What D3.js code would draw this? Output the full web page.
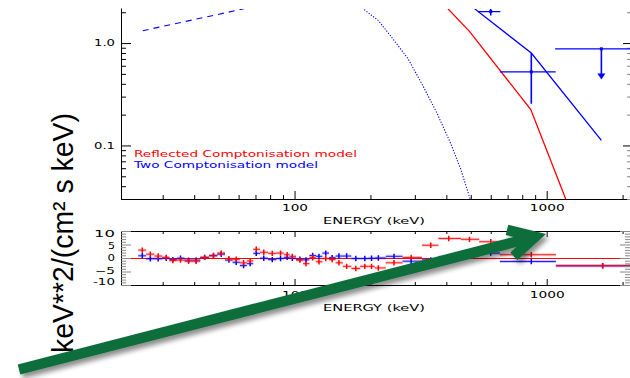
<!DOCTYPE html>
<html><head><meta charset="utf-8">
<script src="https://cdn.jsdelivr.net/npm/d3@7"></script>
<style>
html,body{margin:0;padding:0;background:#fff;overflow:hidden}
svg{display:block}
</style></head><body>
<svg id="chart" width="630" height="378"></svg>
<script>
// ---------------- data ----------------
const xTickMajor = [100, 1000];
const xTickLabels = ["100", "1000"];
const yTickMajor = [0.1, 1.0];
const yTickLabels = ["0.1", "1.0"];
const resTickValues = [10, 5, 0, -5, -10];
const resTickLabels = ["10", "5", "0", "\u22125", "-10"];
const xTitle = "ENERGY (keV)";
const yTitle = "keV**2/(cm\u00B2 s keV)";
const legendLabels = ["Reflected Comptonisation model", "Two Comptonisation model"];

// model curves: energy (keV) and flux
const reflModelE = [406, 494, 865, 1190];
const reflModelF = [2.16, 1.30, 0.224, 0.030];
const twoModelE = [518, 869, 1648];
const twoModelF = [2.16, 0.80, 0.112];
const compDashE = [25, 63];
const compDashF = [1.32, 2.16];
const compDotE = [189, 215, 244, 281, 324, 367, 416, 457, 497];
const compDotF = [2.12, 1.66, 1.12, 0.713, 0.377, 0.207, 0.105, 0.058, 0.030];

// blue spectral points in the upper panel
const specE   = [600, 869, 1648];
const specELo = [535, 652, 1080];
const specEHi = [655, 1086, 2547];
const specF   = [2.03, 0.523, 0.878];
const specFLo = [1.86, 0.255, 0.45];
const specFHi = [2.22, 0.80, 0.878];
const specUpperLimit = [false, false, true];

// residuals (sigma)
const resE = [24.9, 26.8, 28.8, 31.0, 32.9, 35.3, 38.0, 40.7, 44.0, 47.7, 51.2, 54.9, 58.7, 62.8, 66.7, 70.5, 75.5, 81.6, 88.0, 93.5, 98.0,
              105, 111, 118, 125, 133, 141, 150, 161, 175, 190, 202, 215, 248, 290,
              347, 409, 494, 600, 869, 1667];
const resEdges = [24.0, 25.8, 27.8, 29.9, 31.9, 34.1, 36.6, 39.3, 42.3, 45.8, 49.4, 53.0, 56.8, 60.7, 64.7, 68.6, 73.0, 78.5, 84.7, 90.7, 95.7,
                  101.4, 108, 114.5, 121.5, 129, 137, 145.5, 155.4, 168, 182, 196, 208, 230, 268,
                  320, 372, 457, 540, 652, 1088, 2547];
const resRed = [3.1, 1.6, 0.9, 0.4, -0.75, -0.6, -1.0, -1.0, 0.4, 1.0, 2.0, -0.1, -0.3, -1.6, -0.9, 3.4, 2.3, 1.9, 2.0, 1.4, 0.8,
                -0.6, -1.9, 0.3, -1.2, 0.0, -0.4, -1.6, -2.9, -3.7, -2.9, -2.9, -3.5, -1.6, 0.4,
                4.9, 7.4, 7.1, 6.2, 1.4, -2.7];
const resBlue = [1.0, -0.1, -0.1, 0.1, -0.4, 0.1, -0.6, -0.6, 0.4, 1.1, 1.6, -0.6, -1.4, -2.6, -1.9, 1.9, 0.1, -0.4, 0.0, 0.4, 0.1,
                 -0.3, -0.5, 1.1, 0.8, 2.0, 0.3, 0.9, 0.9, 0.0, 0.0, 0.1, 0.2, 0.8, -1.0,
                 -0.5, 0.6, 1.0, 2.0, -1.1, -2.7];

// ---------------- drawing ----------------
const RED = "#ff0000", BLUE = "#0000ff", GREEN = "#0f6d3a";
const FONT = "'DejaVu Sans', sans-serif";
const svg = d3.select("#chart");

const x = d3.scaleLog().domain([20.5, 2150]).range([121, 630.5]);
const yTop = d3.scaleLog().domain([0.03, 2.2]).range([199, 8]);
const yRes = d3.scaleLinear().domain([-10, 10]).range([285, 231]);

const defs = svg.append("defs");
defs.append("clipPath").attr("id", "clipTop").append("rect")
  .attr("x", 121.5).attr("y", 9).attr("width", 510).attr("height", 190.5);
defs.append("clipPath").attr("id", "clipRes").append("rect")
  .attr("x", 121.5).attr("y", 231.5).attr("width", 510).attr("height", 54);
const flt = defs.append("filter").attr("id", "shadow")
  .attr("x", "-10%").attr("y", "-60%").attr("width", "130%").attr("height", "230%");
flt.append("feGaussianBlur").attr("in", "SourceAlpha").attr("stdDeviation", 2.5);
flt.append("feOffset").attr("dx", 3).attr("dy", 4).attr("result", "o");
flt.append("feComponentTransfer").append("feFuncA").attr("type", "linear").attr("slope", 0.45);
const fm = flt.append("feMerge");
fm.append("feMergeNode");
fm.append("feMergeNode").attr("in", "SourceGraphic");

const minorX = x.ticks().filter(d => !xTickMajor.includes(d));
const minorY = yTop.ticks().filter(d => !yTickMajor.some(m => Math.abs(m - d) < 1e-9));
const minorR = yRes.ticks(20).filter(d => !resTickValues.includes(d));

function fixFont(g, size) {
  g.attr("font-family", FONT).attr("font-size", size);
  g.selectAll("path.domain").attr("stroke", "#000");
}

// ---- upper panel axes ----
const gTB = svg.append("g").attr("transform", "translate(0,199)")
  .call(d3.axisBottom(x).tickValues(xTickMajor).tickSizeInner(-8).tickSizeOuter(0).tickPadding(6)
    .tickFormat((d, i) => xTickLabels[i]));
fixFont(gTB, 9);
gTB.selectAll(".tick text").attr("fill", "#000")
  .attr("textLength", (d, i) => [26, 35][i]).attr("lengthAdjust", "spacingAndGlyphs");
svg.append("g").attr("transform", "translate(0,199)")
  .call(d3.axisBottom(x).tickValues(minorX).tickSizeInner(-4).tickSizeOuter(0).tickFormat(""))
  .call(g => g.select(".domain").remove());

const gTL = svg.append("g").attr("transform", "translate(121,0)")
  .call(d3.axisLeft(yTop).tickValues(yTickMajor).tickSizeInner(-10).tickSizeOuter(0).tickPadding(6)
    .tickFormat((d, i) => yTickLabels[i]));
fixFont(gTL, 8.5);
gTL.selectAll(".tick text").attr("textLength", 21).attr("lengthAdjust", "spacingAndGlyphs");
svg.append("g").attr("transform", "translate(121,0)")
  .call(d3.axisLeft(yTop).tickValues(minorY).tickSizeInner(-5).tickSizeOuter(0).tickFormat(""))
  .call(g => g.select(".domain").remove());

svg.append("g").attr("transform", "translate(630,0)")
  .call(d3.axisRight(yTop).tickValues(yTickMajor).tickSizeInner(-7).tickSizeOuter(0).tickFormat(""))
  .call(g => g.select(".domain").remove());
svg.append("g").attr("transform", "translate(630,0)")
  .call(d3.axisRight(yTop).tickValues(minorY).tickSizeInner(-3).tickSizeOuter(0).tickFormat(""))
  .call(g => g.select(".domain").remove())
  .selectAll("line").attr("stroke", "#888");

svg.append("text").attr("x", 374).attr("y", 223.5).attr("text-anchor", "middle")
  .attr("font-family", FONT).attr("font-size", 9)
  .attr("textLength", 102).attr("lengthAdjust", "spacingAndGlyphs").text(xTitle);

// ---- upper panel marks ----
const topG = svg.append("g").attr("clip-path", "url(#clipTop)");
const line = d3.line().x(d => x(d[0])).y(d => yTop(d[1]));
topG.append("path").datum(d3.zip(compDashE, compDashF)).attr("d", line)
  .attr("fill", "none").attr("stroke", BLUE).attr("stroke-width", 1.1).attr("stroke-dasharray", "6,5");
topG.append("path").datum(d3.zip(compDotE, compDotF)).attr("d", line)
  .attr("fill", "none").attr("stroke", BLUE).attr("stroke-width", 1.1).attr("stroke-dasharray", "1.2,1.6");
topG.append("path").datum(d3.zip(reflModelE, reflModelF)).attr("d", line)
  .attr("fill", "none").attr("stroke", RED).attr("stroke-width", 1.3);
topG.append("path").datum(d3.zip(twoModelE, twoModelF)).attr("d", line)
  .attr("fill", "none").attr("stroke", BLUE).attr("stroke-width", 1.3);

specE.forEach((e, i) => {
  const cx = x(e), cy = yTop(specF[i]);
  topG.append("line").attr("x1", x(specELo[i])).attr("x2", x(specEHi[i]))
    .attr("y1", cy).attr("y2", cy).attr("stroke", BLUE).attr("stroke-width", 1.2);
  if (specUpperLimit[i]) {
    const ty = yTop(specFLo[i]);
    topG.append("line").attr("x1", cx).attr("x2", cx).attr("y1", cy).attr("y2", ty - 4)
      .attr("stroke", BLUE).attr("stroke-width", 1.6);
    topG.append("path").attr("d", `M${cx - 4},${ty - 5}L${cx + 4},${ty - 5}L${cx},${ty + 1}Z`).attr("fill", BLUE);
  } else {
    topG.append("line").attr("x1", cx).attr("x2", cx)
      .attr("y1", yTop(specFHi[i])).attr("y2", yTop(specFLo[i]))
      .attr("stroke", BLUE).attr("stroke-width", 1.6);
  }
  topG.append("rect").attr("x", cx - 1.5).attr("y", cy - 1.5).attr("width", 3).attr("height", 3).attr("fill", BLUE);
});

legendLabels.forEach((t, i) => {
  svg.append("text").attr("x", 134).attr("y", [157, 168][i])
    .attr("font-family", FONT).attr("font-size", 9).attr("fill", [RED, BLUE][i])
    .attr("textLength", [223, 184][i]).attr("lengthAdjust", "spacingAndGlyphs").text(t);
});

// ---- residual panel ----
const res = svg.append("g").attr("clip-path", "url(#clipRes)");
res.append("line").attr("x1", 121.5).attr("x2", 631).attr("y1", yRes(0) + 0.5).attr("y2", yRes(0) + 0.5)
  .attr("stroke", RED).attr("stroke-width", 1);

[[resBlue, BLUE], [resRed, RED]].forEach(([vals, col]) => {
  const g = res.append("g");
  g.selectAll("line.hb").data(vals).join("line").attr("class", "hb")
    .attr("x1", (d, i) => x(resEdges[i])).attr("x2", (d, i) => x(resEdges[i + 1]))
    .attr("y1", d => yRes(d) + 0.5).attr("y2", d => yRes(d) + 0.5)
    .attr("stroke", col).attr("stroke-width", 3).attr("stroke-opacity", 0.22);
  g.selectAll("line.h").data(vals).join("line").attr("class", "h")
    .attr("x1", (d, i) => x(resEdges[i])).attr("x2", (d, i) => x(resEdges[i + 1]))
    .attr("y1", d => yRes(d) + 0.5).attr("y2", d => yRes(d) + 0.5)
    .attr("stroke", col).attr("stroke-width", 1).attr("stroke-opacity", 0.85);
  g.selectAll("line.v").data(vals).join("line").attr("class", "v")
    .attr("x1", (d, i) => x(resE[i])).attr("x2", (d, i) => x(resE[i]))
    .attr("y1", d => yRes(d - 1) + 0.5).attr("y2", d => yRes(d + 1) + 0.5)
    .attr("stroke", col).attr("stroke-width", 1.5);
});

const gRB = svg.append("g").attr("transform", "translate(0,285)")
  .call(d3.axisBottom(x).tickValues(xTickMajor).tickSizeInner(-6).tickSizeOuter(0).tickPadding(7)
    .tickFormat((d, i) => xTickLabels[i]));
fixFont(gRB, 9);
gRB.selectAll(".tick text").attr("textLength", (d, i) => [26, 35][i]).attr("lengthAdjust", "spacingAndGlyphs");
svg.append("g").attr("transform", "translate(0,285)")
  .call(d3.axisBottom(x).tickValues(minorX).tickSizeInner(-3).tickSizeOuter(0).tickFormat(""))
  .call(g => g.select(".domain").remove());
const gRT = svg.append("g").attr("transform", "translate(0,231)")
  .call(d3.axisTop(x).tickValues(xTickMajor).tickSizeInner(-6).tickSizeOuter(0).tickFormat(""));
fixFont(gRT, 9);
svg.append("g").attr("transform", "translate(0,231)")
  .call(d3.axisTop(x).tickValues(minorX).tickSizeInner(-3).tickSizeOuter(0).tickFormat(""))
  .call(g => g.select(".domain").remove());

const resLabelShift = [3, 1.5, 0, -0.5, -3.5];
const gRL = svg.append("g").attr("transform", "translate(121,0)")
  .call(d3.axisLeft(yRes).tickValues(resTickValues).tickSizeInner(-10).tickSizeOuter(0).tickPadding(6)
    .tickFormat((d, i) => resTickLabels[i]));
fixFont(gRL, 8.5);
gRL.selectAll(".tick line").attr("stroke", "#888");
gRL.selectAll(".tick text")
  .attr("y", (d, i) => resLabelShift[i])
  .attr("textLength", (d, i) => [21, 7, 7.5, 20, 22][i]).attr("lengthAdjust", "spacingAndGlyphs");
svg.append("g").attr("transform", "translate(121,0)")
  .call(d3.axisLeft(yRes).tickValues(minorR).tickSizeInner(-5).tickSizeOuter(0).tickFormat(""))
  .call(g => g.select(".domain").remove())
  .selectAll("line").attr("stroke", "#888");
svg.append("g").attr("transform", "translate(630,0)")
  .call(d3.axisRight(yRes).tickValues(resTickValues).tickSizeInner(-10).tickSizeOuter(0).tickFormat(""))
  .call(g => g.select(".domain").remove())
  .selectAll("line").attr("stroke", "#888");
svg.append("g").attr("transform", "translate(630,0)")
  .call(d3.axisRight(yRes).tickValues(minorR).tickSizeInner(-5).tickSizeOuter(0).tickFormat(""))
  .call(g => g.select(".domain").remove())
  .selectAll("line").attr("stroke", "#888");

svg.append("text").attr("x", 374).attr("y", 310.5).attr("text-anchor", "middle")
  .attr("font-family", FONT).attr("font-size", 9)
  .attr("textLength", 102).attr("lengthAdjust", "spacingAndGlyphs").text(xTitle);

svg.append("text").attr("transform", "translate(73,233) rotate(-90)")
  .attr("text-anchor", "middle").attr("font-family", "'Liberation Sans', Arial, sans-serif")
  .attr("font-size", 29).attr("fill", "#000")
  .attr("textLength", 240).attr("lengthAdjust", "spacingAndGlyphs").text(yTitle);

// ---- green annotation arrow ----
const arrowTail = [19, 369.5], arrowTip = [546, 234];
const half = 28 * Math.PI / 180, armLen = 29, aw = 10.5;
const adx = arrowTip[0] - arrowTail[0], ady = arrowTip[1] - arrowTail[1];
const aL = Math.hypot(adx, ady), ux = adx / aL, uy = ady / aL;
const back = (aw / 2) / Math.sin(half);
const T = [arrowTip[0] - ux * back, arrowTip[1] - uy * back];
const rx = -ux, ry = -uy;
const rot = a => [rx * Math.cos(a) - ry * Math.sin(a), rx * Math.sin(a) + ry * Math.cos(a)];
const a1 = rot(half), a2 = rot(-half);
const ga = svg.append("g").attr("filter", "url(#shadow)");
ga.append("path").attr("d", d3.line()([arrowTail, T]))
  .attr("stroke", GREEN).attr("stroke-width", aw).attr("fill", "none").attr("stroke-linecap", "butt");
ga.append("path").attr("d", d3.line()([[T[0] + a1[0] * armLen, T[1] + a1[1] * armLen], T,
                                        [T[0] + a2[0] * armLen, T[1] + a2[1] * armLen]]))
  .attr("stroke", GREEN).attr("stroke-width", aw).attr("fill", "none")
  .attr("stroke-linejoin", "miter").attr("stroke-linecap", "butt");
</script>
</body></html>
